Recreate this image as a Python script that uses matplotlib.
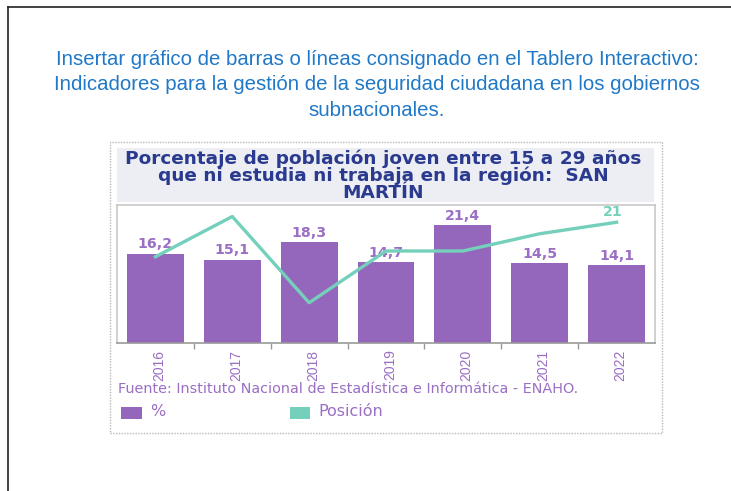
import matplotlib
matplotlib.use("Agg")
import matplotlib.pyplot as plt
from matplotlib.patches import Rectangle
from matplotlib.lines import Line2D

# ---- data ----
years = ["2016", "2017", "2018", "2019", "2020", "2021", "2022"]
pct = [16.2, 15.1, 18.3, 14.7, 21.4, 14.5, 14.1]
pct_labels = ["16,2", "15,1", "18,3", "14,7", "21,4", "14,5", "14,1"]
posicion = [15, 22, 7, 16, 16, 19, 21]

header_lines = ["Insertar gráfico de barras o líneas consignado en el Tablero Interactivo:",
                "Indicadores para la gestión de la seguridad ciudadana en los gobiernos",
                "subnacionales."]
title_lines = ["Porcentaje de población joven entre 15 a 29 años",
               "que ni estudia ni trabaja en la región:  SAN",
               "MARTÍN"]
source = "Fuente: Instituto Nacional de Estadística e Informática - ENAHO."
legend_labels = ["%", "Posición"]

PURPLE = "#9467bd"
LABEL_PURPLE = "#9a6fc4"
TEAL = "#74d0bb"
TITLE_BLUE = "#2a3a8f"
HEAD_BLUE = "#1f78c8"
WIDE = ["DejaVu Sans"]

W, H = 731, 491
plt.rcParams['font.family'] = ['Liberation Sans', 'DejaVu Sans']
fig = plt.figure(figsize=(W / 100, H / 100), dpi=100)

def fx(x):
    return x / W

def fy(y):
    return 1 - y / H

# page border (left and top)
fig.add_artist(Line2D([fx(8), fx(8)], [fy(7), fy(491)], color="#222222", lw=1.2, transform=fig.transFigure))
fig.add_artist(Line2D([fx(8), fx(731)], [fy(7), fy(7)], color="#222222", lw=1.2, transform=fig.transFigure))

# header text
for i, t in enumerate(header_lines):
    fig.text(fx(377), fy(59.5 + 25.5 * i), t, ha="center", va="center", fontsize=14.7,
             color=HEAD_BLUE)

# dotted outer chart frame
fig.add_artist(Rectangle((fx(110), fy(433)), fx(662 - 110), (433 - 142) / H,
                         transform=fig.transFigure, fill=False, ec="#b8b8b8",
                         lw=1.0, ls=(0, (1, 1))))

# title background
fig.add_artist(Rectangle((fx(117), fy(202)), fx(654 - 117), (202 - 148) / H,
                         transform=fig.transFigure, fc="#eceef3", ec="none"))
fig.text(fx(383), fy(176), "\n".join(title_lines), ha="center", va="center",
         multialignment="center", fontsize=13.3, fontweight="bold",
         color=TITLE_BLUE, family=WIDE, linespacing=0.9)

# main axes
ax = fig.add_axes([fx(117), fy(343), fx(655 - 117), (343 - 205) / H])
x = list(range(len(years)))
ax.bar(x, pct, width=0.74, color=PURPLE, zorder=2)
ax.set_xlim(-0.5, len(years) - 0.5)
ax.set_ylim(0, 25)
ax.set_yticks([])
ax.set_xticks([i + 0.5 for i in range(len(years) - 1)])
ax.set_xticklabels([])
ax.tick_params(axis="x", length=4, color="#999999", width=1)
for s in ["left", "right", "top"]:
    ax.spines[s].set_color("#c8c8c8")
    ax.spines[s].set_linewidth(1.2)
ax.spines["bottom"].set_color("#999999")
ax.spines["bottom"].set_linewidth(1.2)
for i, (v, lab) in enumerate(zip(pct, pct_labels)):
    ax.text(i, v + 0.4, lab, ha="center", va="bottom", fontsize=10.2,
            fontweight="bold", color=LABEL_PURPLE, zorder=1, family=WIDE)
for i, yr in enumerate(years):
    ax.text(i + 0.05, -1.2, yr, rotation=90, ha="center", va="top",
            fontsize=10, color=LABEL_PURPLE)

ax2 = ax.twinx()
ax2.plot(x, posicion, color=TEAL, lw=2.4, zorder=3)
ax2.set_ylim(0, 24)
ax2.set_yticks([])
for s in ax2.spines.values():
    s.set_visible(False)
ax2.text(x[-1] - 0.05, posicion[-1] + 0.5, str(posicion[-1]), ha="center", va="bottom",
         fontsize=10.2, fontweight="bold", color=TEAL, family=WIDE)

# source
fig.text(fx(118), fy(389), source, ha="left", va="center", fontsize=10.4,
         color=LABEL_PURPLE, family=WIDE)

# legend
fig.add_artist(Rectangle((fx(121), fy(419)), fx(21), 12 / H, transform=fig.transFigure,
                         fc=PURPLE, ec="none"))
fig.text(fx(150), fy(412), legend_labels[0], ha="left", va="center", fontsize=11.5,
         color=LABEL_PURPLE, family=WIDE)
fig.add_artist(Rectangle((fx(290), fy(419)), fx(20), 12 / H, transform=fig.transFigure,
                         fc=TEAL, ec="none"))
fig.text(fx(318), fy(412), legend_labels[1], ha="left", va="center", fontsize=11.5,
         color=LABEL_PURPLE, family=WIDE)

fig.savefig("out.png", dpi=100)
